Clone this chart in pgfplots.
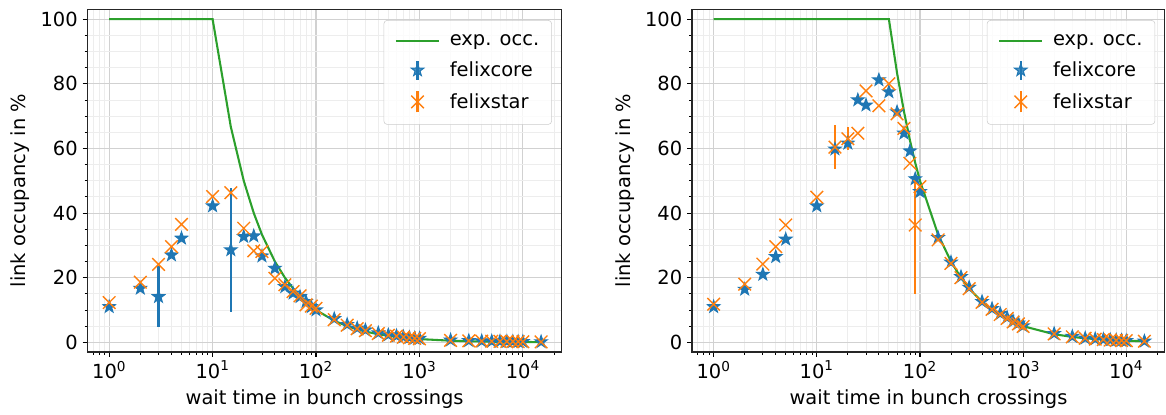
\documentclass[border=0pt]{standalone}
\usepackage{fontspec}
\setmainfont{DejaVu Sans}
\usepackage{pgfplots}
\pgfplotsset{compat=1.18}
\definecolor{c0}{HTML}{1F77B4}
\definecolor{c1}{HTML}{FF7F0E}
\definecolor{c2}{HTML}{2CA02C}
\pgfdeclareplotmark{fstar}{%
  \pgfpathmoveto{\pgfpointpolar{90}{\pgfplotmarksize}}%
  \pgfpathlineto{\pgfpointpolar{126}{0.4\pgfplotmarksize}}%
  \pgfpathlineto{\pgfpointpolar{162}{\pgfplotmarksize}}%
  \pgfpathlineto{\pgfpointpolar{198}{0.4\pgfplotmarksize}}%
  \pgfpathlineto{\pgfpointpolar{234}{\pgfplotmarksize}}%
  \pgfpathlineto{\pgfpointpolar{270}{0.4\pgfplotmarksize}}%
  \pgfpathlineto{\pgfpointpolar{306}{\pgfplotmarksize}}%
  \pgfpathlineto{\pgfpointpolar{342}{0.4\pgfplotmarksize}}%
  \pgfpathlineto{\pgfpointpolar{18}{\pgfplotmarksize}}%
  \pgfpathlineto{\pgfpointpolar{54}{0.4\pgfplotmarksize}}%
  \pgfpathclose
  \pgfusepathqfillstroke
}
\newcommand{\fs}{\fontsize{14}{17}\selectfont}
\pgfplotsset{
  every axis/.append style={
    scale only axis, height=246.6pt,
    xmin=0.617, xmax=23714, ymin=-3, ymax=103,
    xtick={1,10,100,1000,10000},
    xticklabels={10\textsuperscript{0},10\textsuperscript{1},10\textsuperscript{2},10\textsuperscript{3},10\textsuperscript{4}},
    minor xtick={0.7,0.8,0.9,2,3,4,5,6,7,8,9,20,30,40,50,60,70,80,90,200,300,400,500,600,700,800,900,2000,3000,4000,5000,6000,7000,8000,9000,20000},
    ytick={0,20,40,60,80,100},
    yticklabels={0,20,40,60,80,100},
    minor ytick={5,10,15,25,30,35,45,50,55,65,70,75,85,90,95},
    grid=both,
    major grid style={draw=black!18, line width=0.8pt},
    minor grid style={draw=black!7, line width=0.6pt},
    tick pos=left, tick align=outside,
    major tick length=3.5pt, minor tick length=2pt,
    major tick style={black, line width=0.8pt},
    minor tick style={black, line width=0.6pt},
    axis line style={black!85, line width=0.8pt},
    ticklabel style={font=\fs},
    xticklabel style={anchor=north, inner sep=2.8pt},
    yticklabel style={anchor=east},
    label style={font=\fs},
    xlabel style={at={(axis description cs:0.5,-0.1545)}, anchor=base},
    ylabel style={at={(axis description cs:-0.1298,0.4715)}, anchor=base},
    legend cell align=left,
    legend style={at={(1,1)}, anchor=north east, xshift=-7pt, yshift=-7.6pt,
      draw=black!20, rounded corners=2.5pt, fill=white, fill opacity=0.8, text opacity=1,
      font=\fs, inner xsep=7pt, inner ysep=8pt, row sep=6.5pt},
  },
  occ/.style={c2, line width=1.5pt, no markers,
    legend image code/.code={\draw[c2, line width=1.5pt] (0pt,0pt) -- (31pt,0pt);
      \path (-1pt,0pt) (36pt,0pt);}},
  coreplot/.style={only marks, mark=fstar, mark size=4.6pt,
    mark options={draw=c0, fill=c0, line width=0.8pt},
    legend image code/.code={%
      \draw[c0, line width=1.5pt] (15.5pt,-6.8pt) -- (15.5pt,6.8pt);
      \path (-1pt,0pt) (36pt,0pt);
      \begin{scope}[shift={(15.5pt,0pt)}]
        \pgfsetplotmarksize{4.6pt}\pgfsetlinewidth{0.8pt}%
        \pgfsetfillcolor{c0}\pgfsetstrokecolor{c0}%
        \pgfuseplotmark{fstar}%
      \end{scope}},
    error bars/y dir=both, error bars/y explicit, error bars/error mark=none,
    error bars/error bar style={c0, line width=1.5pt}},
  starplot/.style={only marks, mark=x, mark size=6.4pt,
    mark options={draw=c1, line width=1pt},
    legend image code/.code={%
      \draw[c1, line width=1.5pt] (15.5pt,-7.5pt) -- (15.5pt,7.5pt);
      \path (-1pt,0pt) (36pt,0pt);
      \begin{scope}[shift={(15.5pt,0pt)}]
        \pgfsetplotmarksize{6.4pt}\pgfsetlinewidth{1pt}%
        \pgfsetstrokecolor{c1}%
        \pgfuseplotmark{x}%
      \end{scope}},
    error bars/y dir=both, error bars/y explicit, error bars/error mark=none,
    error bars/error bar style={c1, line width=1.5pt}},
}
\begin{document}
\begin{tikzpicture}
\path[use as bounding box] (0,0) rectangle (839.52pt,298.08pt);
% ---------------- left panel ----------------
\begin{semilogxaxis}[at={(63pt,44.64pt)}, anchor=south west, width=341.4pt,
  xlabel={wait time in bunch crossings}, ylabel={link occupancy in \%}]
\addplot[occ] coordinates {
(1,100) (2,100) (3,100) (4,100) (5,100) (10,100) (15,66.67) (20,50) (25,40) (30,33.33)
(40,25) (50,20) (60,16.67) (70,14.29) (80,12.5) (90,11.11) (100,10) (150,6.667) (200,5)
(250,4) (300,3.333) (400,2.5) (500,2) (600,1.667) (700,1.429) (800,1.25) (900,1.111)
(1000,1) (2000,0.5) (3000,0.333) (4000,0.25) (5000,0.2) (6000,0.167) (7000,0.143)
(8000,0.125) (9000,0.111) (10000,0.1) (15000,0.067)};
\addlegendentry{exp. occ.}
\addplot[coreplot] coordinates {
(1,11.0) +- (0,0) (2,16.7) +- (0,0) (3,14.1) +- (0,9.5) (4,27.0) +- (0,0) (5,32.2) +- (0,0)
(10,42.2) +- (0,0) (15,28.6) +- (0,19.1) (20,32.7) +- (0,0) (25,32.9) +- (0,0) (30,26.7) +- (0,0)
(40,22.9) +- (0,0) (50,17.2) +- (0,0) (60,15.2) +- (0,0) (70,14.1) +- (0,0) (80,12.6) +- (0,0)
(90,11.0) +- (0,0) (100,10.0) +- (0,0) (150,7.3) +- (0,0) (200,5.5) +- (0,0) (250,4.4) +- (0,0)
(300,3.8) +- (0,0) (400,2.9) +- (0,0) (500,2.3) +- (0,0) (600,2.0) +- (0,0) (700,1.7) +- (0,0)
(800,1.5) +- (0,0) (900,1.3) +- (0,0) (1000,1.2) +- (0,0) (2000,0.7) +- (0,0) (3000,0.5) +- (0,0)
(4000,0.4) +- (0,0) (5000,0.35) +- (0,0) (6000,0.3) +- (0,0) (7000,0.3) +- (0,0) (8000,0.25) +- (0,0)
(9000,0.2) +- (0,0) (10000,0.2) +- (0,0) (15000,0.15) +- (0,0)};
\addlegendentry{felixcore}
\addplot[starplot] coordinates {
(1,12.3) +- (0,0) (2,18.6) +- (0,0) (3,24.1) +- (0,0) (4,29.6) +- (0,0) (5,36.5) +- (0,0)
(10,45.1) +- (0,0) (15,46.3) +- (0,0) (20,35.3) +- (0,0) (25,28.3) +- (0,0) (30,28.1) +- (0,0)
(40,19.8) +- (0,0) (50,17.8) +- (0,0) (60,15.7) +- (0,0) (70,14.4) +- (0,0) (80,11.6) +- (0,0)
(90,11.2) +- (0,0) (100,10.5) +- (0,0) (150,7.0) +- (0,0) (200,5.3) +- (0,0) (250,4.2) +- (0,0)
(300,3.6) +- (0,0) (400,2.7) +- (0,0) (500,2.2) +- (0,0) (600,1.9) +- (0,0) (700,1.6) +- (0,0)
(800,1.4) +- (0,0) (900,1.2) +- (0,0) (1000,1.1) +- (0,0) (2000,0.6) +- (0,0) (3000,0.45) +- (0,0)
(4000,0.38) +- (0,0) (5000,0.33) +- (0,0) (6000,0.3) +- (0,0) (7000,0.27) +- (0,0) (8000,0.24) +- (0,0)
(9000,0.2) +- (0,0) (10000,0.18) +- (0,0) (15000,0.13) +- (0,0)};
\addlegendentry{felixstar}
\end{semilogxaxis}
% ---------------- right panel ----------------
\begin{semilogxaxis}[at={(498.24pt,44.64pt)}, anchor=south west, width=340.5pt,
  xlabel={wait time in bunch crossings}, ylabel={link occupancy in \%}]
\addplot[occ] coordinates {
(1,100) (2,100) (3,100) (4,100) (5,100) (10,100) (15,100) (20,100) (25,100) (30,100)
(40,100) (50,100) (60,83.33) (70,71.43) (80,62.5) (90,55.56) (100,50) (150,33.33) (200,25)
(250,20) (300,16.67) (400,12.5) (500,10) (600,8.333) (700,7.143) (800,6.25) (900,5.556)
(1000,5) (2000,2.5) (3000,1.667) (4000,1.25) (5000,1) (6000,0.833) (7000,0.714)
(8000,0.625) (9000,0.556) (10000,0.5) (15000,0.333)};
\addlegendentry{exp. occ.}
\addplot[coreplot] coordinates {
(1,11.0) +- (0,0) (2,16.4) +- (0,0) (3,21.0) +- (0,0) (4,26.5) +- (0,0) (5,31.9) +- (0,0)
(10,42.2) +- (0,0) (15,59.8) +- (0,0) (20,61.6) +- (0,0) (25,75.0) +- (0,0) (30,73.4) +- (0,0)
(40,81.2) +- (0,0) (50,77.5) +- (0,0) (60,71.3) +- (0,0) (70,64.7) +- (0,0) (80,59.2) +- (0,0)
(90,50.6) +- (0,0) (100,46.6) +- (0,0) (150,32.4) +- (0,0) (200,24.8) +- (0,0) (250,20.3) +- (0,0)
(300,17.0) +- (0,0) (400,12.6) +- (0,0) (500,10.4) +- (0,0) (600,8.9) +- (0,0) (700,7.7) +- (0,0)
(800,6.5) +- (0,0) (900,5.9) +- (0,0) (1000,5.1) +- (0,0) (2000,2.7) +- (0,0) (3000,1.8) +- (0,0)
(4000,1.3) +- (0,0) (5000,1.05) +- (0,0) (6000,0.9) +- (0,0) (7000,0.75) +- (0,0) (8000,0.65) +- (0,0)
(9000,0.6) +- (0,0) (10000,0.5) +- (0,0) (15000,0.35) +- (0,0)};
\addlegendentry{felixcore}
\addplot[starplot] coordinates {
(1,11.8) +- (0,0) (2,18.0) +- (0,0) (3,24.2) +- (0,0) (4,29.6) +- (0,0) (5,36.3) +- (0,0)
(10,44.9) +- (0,0) (15,60.4) +- (0,6.8) (20,63.0) +- (0,3.6) (25,64.7) +- (0,0) (30,77.8) +- (0,0)
(40,73.2) +- (0,0) (50,80.0) +- (0,0) (60,70.7) +- (0,0) (70,66.2) +- (0,0) (80,55.4) +- (0,0)
(90,36.3) += (0,13.5) -= (0,21.2) (100,48.2) +- (0,0) (150,31.7) +- (0,0) (200,24.4) +- (0,0) (250,20.0) +- (0,0)
(300,16.6) +- (0,0) (400,12.4) +- (0,0) (500,10.2) +- (0,0) (600,8.6) +- (0,0) (700,7.4) +- (0,0)
(800,6.3) +- (0,0) (900,5.7) +- (0,0) (1000,4.9) +- (0,0) (2000,2.6) +- (0,0) (3000,1.7) +- (0,0)
(4000,1.25) +- (0,0) (5000,1.0) +- (0,0) (6000,0.85) +- (0,0) (7000,0.72) +- (0,0) (8000,0.63) +- (0,0)
(9000,0.56) +- (0,0) (10000,0.5) +- (0,0) (15000,0.33) +- (0,0)};
\addlegendentry{felixstar}
\end{semilogxaxis}
\end{tikzpicture}
\end{document}
